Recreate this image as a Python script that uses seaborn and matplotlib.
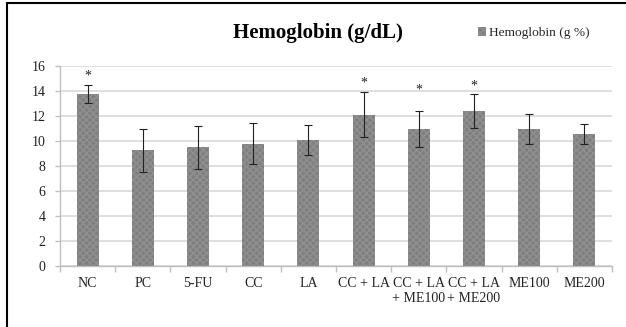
import numpy as np
import pandas as pd
import matplotlib
matplotlib.use("Agg")
import matplotlib.pyplot as plt
from matplotlib.lines import Line2D
from matplotlib.patches import Patch
import seaborn as sns

groups = ["NC", "PC", "5-FU", "CC", "LA", "CC + LA", "CC + LA\n+ ME100",
          "CC + LA\n+ ME200", "ME100", "ME200"]
hemoglobin = [13.75, 9.25, 9.5, 9.8, 10.08, 12.12, 10.98, 12.42, 10.98, 10.58]
sd = [0.7, 1.7, 1.72, 1.62, 1.2, 1.78, 1.45, 1.38, 1.2, 0.8]
significant = [True, False, False, False, False, True, True, True, False, False]
star_y = [15.2, 0, 0, 0, 0, 14.6, 14.1, 14.4, 0, 0]

df = pd.DataFrame({"group": groups, "hb": hemoglobin})

sns.set_theme(style="white")
plt.rcParams["font.family"] = ["Liberation Serif", "DejaVu Serif"]

fig = plt.figure(figsize=(6.26, 3.27), dpi=100)
ax = fig.add_axes([60 / 626, 1 - 266 / 327, 552 / 626, 200 / 327])

sns.barplot(data=df, x="group", y="hb", color="#7f7f7f", width=0.4,
            saturation=1, ax=ax, errorbar=None, zorder=3)
for p in ax.patches:
    p.set_hatch("xxxxx")
    p.set_edgecolor("#909090")
    p.set_linewidth(0)

x = np.arange(len(groups))
ax.errorbar(x, hemoglobin, yerr=sd, fmt="none", ecolor="#222222",
            elinewidth=0.8, capsize=3, capthick=0.8, zorder=4)
for xi, s, yy in zip(x, significant, star_y):
    if s:
        ax.text(xi, yy, "*", ha="center", va="center", fontsize=10, color="#222222")

ax.set_ylim(0, 16)
ax.set_xlim(-0.5, len(groups) - 0.5)
ax.set_yticks(range(0, 17, 2))
ax.yaxis.grid(True, color="#d9d9d9", linewidth=1.2, zorder=0)
ax.set_axisbelow(True)
ax.set_xlabel("")
ax.set_ylabel("")
for side in ["top", "right"]:
    ax.spines[side].set_visible(False)
for side in ["left", "bottom"]:
    ax.spines[side].set_color("#bfbfbf")
    ax.spines[side].set_linewidth(1)

ax.tick_params(axis="y", which="major", length=3.5, width=1, color="#bfbfbf",
               labelsize=10, labelcolor="#222222", pad=7, left=True)
ax.set_xticks(x)
ax.set_xticklabels(groups, fontsize=10, color="#222222", linespacing=1.15)
ax.tick_params(axis="x", which="major", length=0, pad=8)
ax.set_xticks(np.arange(-0.5, len(groups), 1), minor=True)
ax.tick_params(axis="x", which="minor", length=4, width=1, color="#bfbfbf",
               bottom=True)

fig.text(318 / 626, 1 - 33 / 327, "Hemoglobin (g/dL)", ha="center", va="center",
         fontsize=15, fontweight="bold", color="#000000")
fig.legend(handles=[Patch(facecolor="#7f7f7f", hatch="xxxxx", edgecolor="#909090",
                          linewidth=0, label="Hemoglobin (g %)")],
           loc="center left", bbox_to_anchor=(478 / 626, 1 - 33 / 327),
           frameon=False, fontsize=9.6, handlelength=0.6, handleheight=0.6,
           handletextpad=0.2, borderaxespad=0, borderpad=0)

# frame edges of the chart area
fig.add_artist(Line2D([7 / 626, 1], [1 - 3 / 327] * 2, color="black", lw=1.5,
                      transform=fig.transFigure))
fig.add_artist(Line2D([7 / 626] * 2, [0, 1 - 3 / 327], color="black", lw=1.5,
                      transform=fig.transFigure))

fig.savefig("out.png", dpi=100, facecolor="white")
